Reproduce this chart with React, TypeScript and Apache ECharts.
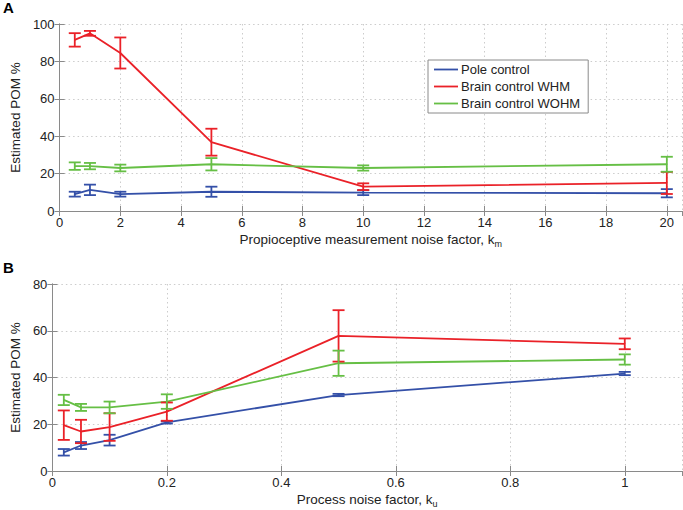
import React, { useEffect, useRef } from "react";
import * as echarts from "echarts";

// Panel A
const topX = [0.5, 1, 2, 5, 10, 20];
const topPole = [9, 11.3, 9, 10.3, 9.8, 9.5];
const topPoleErr = [1.3, 2.8, 1.3, 2.7, 1.3, 2.2];
const topWHM = [91.5, 95, 84.5, 36.8, 13, 15];
const topWHMErr = [3.6, 1.3, 8.3, 7.2, 1.8, 5.9];
const topWOHM = [24, 24, 23, 25, 23, 25];
const topWOHMErr = [2, 1.7, 1.8, 3.3, 1.4, 4];

// Panel B
const botX = [0.02, 0.05, 0.1, 0.2, 0.5, 1];
const botPole = [8, 10.9, 13.2, 20.8, 32.5, 41.7];
const botPoleErr = [1.4, 1.5, 2.3, 0.5, 0.5, 0.7];
const botWHM = [19.6, 16.9, 18.8, 25.4, 57.8, 54.4];
const botWHMErr = [6.3, 5, 5.9, 3.9, 11, 2.3];
const botWOHM = [30.4, 27.2, 27.2, 29.7, 46.1, 47.7];
const botWOHMErr = [2.2, 1.5, 2.5, 3.1, 5.4, 2.2];

const seriesNames = ["Pole control", "Brain control WHM", "Brain control WOHM"];
const colors = ["#3450a8", "#ea2128", "#66bf45"];

const FONT = "'Liberation Sans', Arial, Helvetica, sans-serif";
const LW = 1.8;

function lineSeries(name: string, color: string, xs: number[], ys: number[], axis: number) {
  return {
    type: "line",
    name,
    xAxisIndex: axis,
    yAxisIndex: axis,
    data: xs.map((x, i) => [x, ys[i]]),
    symbol: "none",
    showSymbol: false,
    lineStyle: { color, width: LW },
    itemStyle: { color },
    z: 3,
  };
}

function errSeries(name: string, color: string, xs: number[], ys: number[], es: number[], axis: number) {
  return {
    type: "custom",
    name,
    xAxisIndex: axis,
    yAxisIndex: axis,
    data: xs.map((x, i) => [x, ys[i] - es[i], ys[i] + es[i]]),
    encode: { x: 0, y: [1, 2] },
    z: 4,
    renderItem: (_p: any, api: any) => {
      const x = api.value(0);
      const lo = api.coord([x, api.value(1)]);
      const hi = api.coord([x, api.value(2)]);
      const w = 6;
      const st = { stroke: color, lineWidth: LW };
      return {
        type: "group",
        children: [
          { type: "line", shape: { x1: lo[0], y1: lo[1], x2: hi[0], y2: hi[1] }, style: st },
          { type: "line", shape: { x1: lo[0] - w, y1: lo[1], x2: lo[0] + w, y2: lo[1] }, style: st },
          { type: "line", shape: { x1: hi[0] - w, y1: hi[1], x2: hi[0] + w, y2: hi[1] }, style: st },
        ],
      };
    },
  };
}

const axisLine = { show: true, lineStyle: { color: "#8a8a8a", width: 1 } };
const axisTick = { show: true, inside: true, length: 5, lineStyle: { color: "#8a8a8a" } };
const splitLine = { show: true, lineStyle: { color: "#cccccc", type: [1.5, 3], width: 1 } };
const labelStyle = { color: "#222", fontSize: 13, fontFamily: FONT };

function xAxes(grid: number, max: number, interval: number, name: any) {
  return [
    {
      type: "value",
      gridIndex: grid,
      position: "bottom",
      min: 0,
      max,
      interval,
      axisLine,
      axisTick,
      splitLine,
      axisLabel: { ...labelStyle, margin: 5, showMaxLabel: false },
      name,
      nameLocation: "middle",
      nameGap: 19,
      nameTextStyle: {
        color: "#222",
        fontSize: 13.5,
        fontFamily: FONT,
        rich: {
          t: { fontSize: 13.5, fontFamily: FONT, color: "#222" },
          s: { fontSize: 9, fontFamily: FONT, color: "#222", padding: [9, 0, 0, 0] },
        },
      },
    },
    {
      type: "value",
      gridIndex: grid,
      position: "top",
      min: 0,
      max,
      interval,
      axisLine,
      axisTick,
      splitLine: { show: false },
      axisLabel: { show: false },
    },
  ];
}

function yAxes(grid: number, max: number) {
  return [
    {
      type: "value",
      gridIndex: grid,
      position: "left",
      min: 0,
      max,
      interval: 20,
      axisLine,
      axisTick,
      splitLine,
      axisLabel: { ...labelStyle, margin: 5 },
      name: "Estimated POM %",
      nameLocation: "middle",
      nameGap: 30,
      nameTextStyle: { color: "#222", fontSize: 13.5, fontFamily: FONT },
    },
    {
      type: "value",
      gridIndex: grid,
      position: "right",
      min: 0,
      max,
      interval: 20,
      axisLine,
      axisTick,
      splitLine: { show: false },
      axisLabel: { show: false },
    },
  ];
}

export default function App() {
  const ref = useRef<HTMLDivElement>(null);
  useEffect(() => {
    document.body.style.margin = "0";
    const chart = echarts.init(ref.current!, null, { renderer: "svg" });
    const topSets = [
      [topPole, topPoleErr],
      [topWHM, topWHMErr],
      [topWOHM, topWOHMErr],
    ];
    const botSets = [
      [botPole, botPoleErr],
      [botWHM, botWHMErr],
      [botWOHM, botWOHMErr],
    ];
    const series: any[] = [];
    topSets.forEach(([ys, es], i) => {
      series.push(lineSeries(seriesNames[i], colors[i], topX, ys, 0));
      series.push(errSeries(seriesNames[i], colors[i], topX, ys, es, 0));
    });
    botSets.forEach(([ys, es], i) => {
      series.push(lineSeries(seriesNames[i], colors[i], botX, ys, 2));
      series.push(errSeries(seriesNames[i], colors[i], botX, ys, es, 2));
    });
    chart.setOption({
      animation: false,
      backgroundColor: "#ffffff",
      textStyle: { fontFamily: FONT },
      grid: [
        { left: 49, top: 24, width: 633, height: 187 },
        { left: 49, top: 284, width: 633, height: 187 },
      ],
      xAxis: [
        ...xAxes(0, 20.5, 2, "{t|Propioceptive measurement noise factor, k}{s|m}"),
        ...xAxes(1, 1.1, 0.2, "{t|Process noise factor, k}{s|u}"),
      ],
      yAxis: [...yAxes(0, 100), ...yAxes(1, 80)],
      legend: {
        show: true,
        orient: "vertical",
        left: 428,
        top: 60,
        data: seriesNames.map((n, i) => ({ name: n, icon: "rect", itemStyle: { color: colors[i] } })),
        backgroundColor: "#ffffff",
        borderColor: "#8a8a8a",
        borderWidth: 1,
        borderRadius: 0,
        padding: [3, 8, 3, 6],
        itemWidth: 24,
        itemHeight: 1.8,
        itemGap: 4,
        selectedMode: false,
        textStyle: { color: "#222", fontSize: 13, fontFamily: FONT, padding: [0, 0, 0, -2] },
      },
      graphic: [
        { type: "text", left: 3, top: 0, style: { text: "A", fontSize: 15, fontWeight: "bold", fontFamily: FONT, fill: "#000" } },
        { type: "text", left: 3, top: 260, style: { text: "B", fontSize: 15, fontWeight: "bold", fontFamily: FONT, fill: "#000" } },
      ],
      series,
    });
    return () => chart.dispose();
  }, []);
  return <div ref={ref} style={{ width: 683, height: 510 }} />;
}
